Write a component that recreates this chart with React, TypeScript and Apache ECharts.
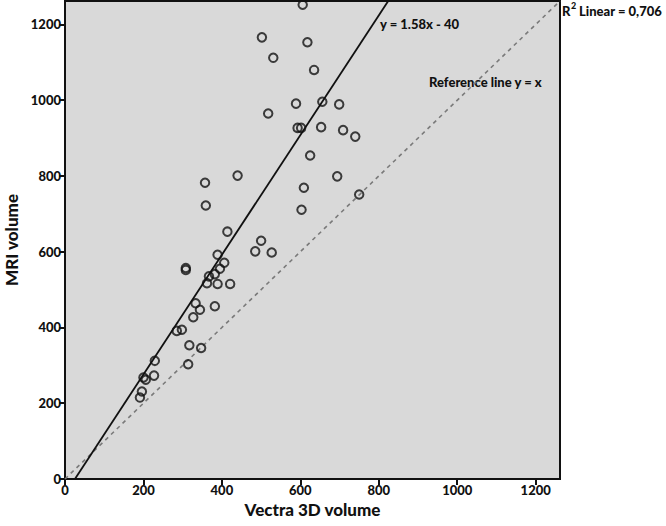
import React, { useEffect, useRef } from 'react';
import * as echarts from 'echarts';

const vectra = [606, 502, 618, 531, 635, 589, 656, 699, 518, 593, 602, 653, 709, 740, 625, 694, 609, 750, 603, 357, 440, 359, 414, 500, 485, 527, 308, 308, 389, 406, 395, 382, 367, 362, 389, 421, 333, 382, 344, 327, 285, 298, 317, 347, 229, 314, 200, 206, 227, 196, 191];
const mri = [1252, 1166, 1153, 1112, 1080, 991, 996, 989, 965, 927, 927, 929, 921, 904, 854, 799, 769, 751, 711, 782, 801, 722, 653, 629, 601, 598, 557, 552, 592, 571, 555, 541, 535, 517, 515, 515, 464, 456, 447, 427, 391, 394, 353, 346, 312, 303, 268, 262, 273, 231, 215];
const fitSlope = 1.58;
const fitIntercept = -40;
const axisMax = 1262;
const tickStep = 200;
const fitLabel = 'y = 1.58x - 40';
const refLabel = 'Reference line y = x';
const r2Text = 'Linear = 0,706';

export default function App() {
  const ref = useRef<HTMLDivElement>(null);
  useEffect(() => {
    document.body.style.margin = '0';
    const chart = echarts.init(ref.current!, null, { renderer: 'svg' });
    const font = 'Lato, "Open Sans", sans-serif';
    const points = vectra.map((v, i) => [v, mri[i]]);
    const fitData = [
      [(0 - fitIntercept) / fitSlope, 0],
      [(axisMax - fitIntercept) / fitSlope, axisMax],
    ];
    const refData = [[0, 0], [axisMax, axisMax]];
    const axisCommon = {
      type: 'value',
      min: 0,
      max: axisMax,
      interval: tickStep,
      splitLine: { show: false },
      axisLine: { show: true, lineStyle: { color: '#111', width: 2 } },
      axisTick: { show: true, length: 6, lineStyle: { color: '#111', width: 2 } },
      axisLabel: {
        color: '#111',
        fontFamily: font,
        fontWeight: 900,
        fontSize: 13,
        margin: 4,
        showMaxLabel: false,
        formatter: (v: number) => (v % tickStep === 0 ? String(v) : ''),
      },
      nameLocation: 'middle',
      nameTextStyle: { color: '#111', fontFamily: font, fontWeight: 900, fontSize: 17 },
    };
    chart.setOption({
      animation: false,
      grid: {
        left: 65, right: 106, top: 1, bottom: 47,
        show: true, backgroundColor: '#d9d9d9', borderColor: '#111', borderWidth: 2,
        outerBoundsMode: 'none',
      },
      xAxis: { ...axisCommon, name: 'Vectra 3D volume', nameGap: 22 },
      yAxis: { ...axisCommon, name: 'MRI volume', nameGap: 44 },
      series: [
        {
          type: 'line',
          data: refData,
          symbol: 'none',
          lineStyle: { color: '#7a7a7a', width: 1.6, type: [4, 4] },
          silent: true,
          z: 2,
        },
        {
          type: 'line',
          data: fitData,
          symbol: 'none',
          lineStyle: { color: '#111', width: 1.8 },
          silent: true,
          z: 3,
        },
        {
          type: 'scatter',
          data: points,
          symbol: 'circle',
          symbolSize: 8.5,
          itemStyle: { color: 'rgba(0,0,0,0)', borderColor: '#111', borderWidth: 2 },
          z: 4,
        },
      ],
      graphic: [
        { type: 'text', x: 380, y: 17, style: { text: fitLabel, font: `900 13px ${font}`, fill: '#111' } },
        { type: 'text', x: 429, y: 75, style: { text: refLabel, font: `900 13px ${font}`, fill: '#111' } },
        { type: 'text', x: 562, y: 4, style: { text: 'R', font: `900 13px ${font}`, fill: '#111' } },
        { type: 'text', x: 571, y: 1, style: { text: '2', font: `900 9px ${font}`, fill: '#111' } },
        { type: 'text', x: 579, y: 4, style: { text: r2Text, font: `900 13px ${font}`, fill: '#111' } },
      ],
    });
    return () => chart.dispose();
  }, []);
  return <div ref={ref} style={{ width: 666, height: 526 }} />;
}
